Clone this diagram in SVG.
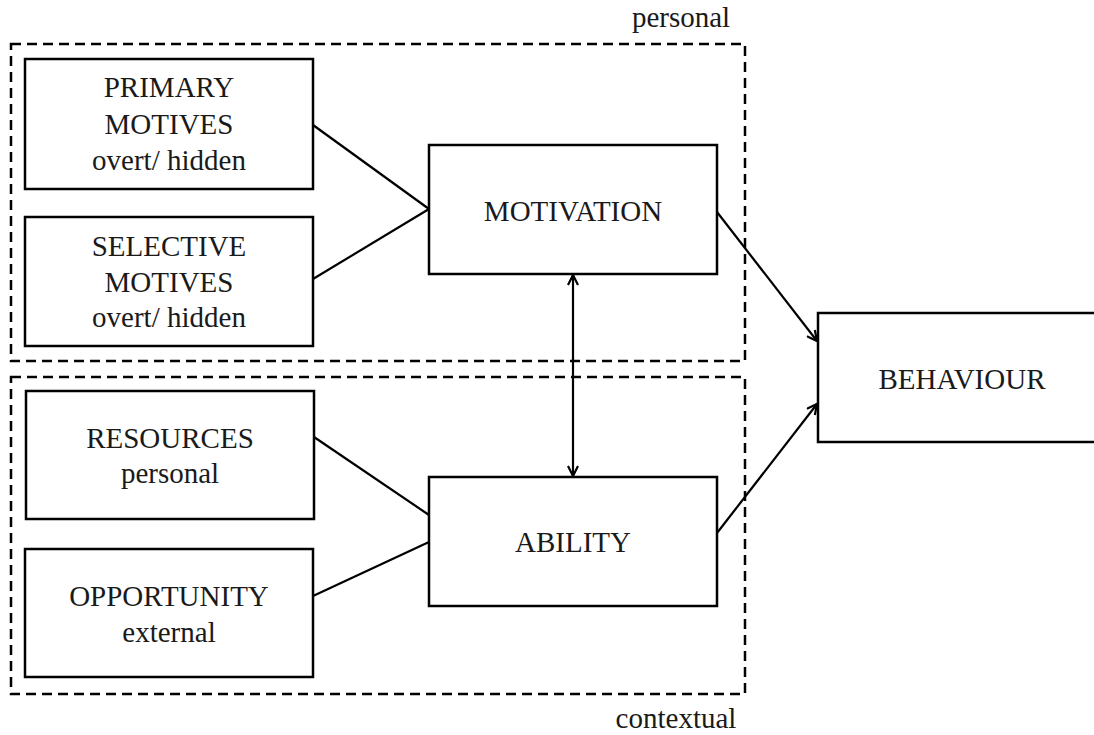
<svg xmlns="http://www.w3.org/2000/svg" width="1094" height="735" viewBox="0 0 1094 735">
<style>
.box{fill:#fff;stroke:#000;stroke-width:2.5}
.grp{fill:none;stroke:#000;stroke-width:2.5;stroke-dasharray:10 6}
.ln{fill:none;stroke:#000;stroke-width:2.2}
text{font-family:'Liberation Serif','Times New Roman','DejaVu Serif',serif;font-size:29px;fill:#1a1a1a;text-anchor:middle}
</style>
<defs>
<marker id="arr" viewBox="0 0 12 12" refX="11" refY="6" markerWidth="12" markerHeight="12" markerUnits="userSpaceOnUse" orient="auto-start-reverse">
<path d="M1,1 L11,6 L1,11" fill="none" stroke="#000" stroke-width="2.2"/>
</marker>
</defs>
<rect width="1094" height="735" fill="#fff"/>
<g id="personal-group">
<rect class="grp" x="11" y="44" width="734" height="317"/>
<text x="681" y="27" font-family="Liberation Serif, serif">personal</text>
</g>
<g id="contextual-group">
<rect class="grp" x="11" y="377" width="734" height="317"/>
<text x="676" y="728" font-family="Liberation Serif, serif">contextual</text>
</g>
<g id="connectors">
<line class="ln" x1="313" y1="125" x2="429" y2="209"/>
<line class="ln" x1="313" y1="279" x2="429" y2="209"/>
<line class="ln" x1="314" y1="437" x2="429" y2="515"/>
<line class="ln" x1="313" y1="596" x2="429" y2="542"/>
<line class="ln" x1="717" y1="212" x2="817" y2="341" marker-end="url(#arr)"/>
<line class="ln" x1="717" y1="533" x2="817" y2="404" marker-end="url(#arr)"/>
<line class="ln" x1="573" y1="275" x2="573" y2="476" marker-start="url(#arr)" marker-end="url(#arr)"/>
</g>
<g id="primary-motives">
<rect class="box" x="25" y="59" width="288" height="130"/>
<text x="169" y="97" font-family="Liberation Serif, serif">PRIMARY</text>
<text x="169" y="134" font-family="Liberation Serif, serif">MOTIVES</text>
<text x="169" y="170" font-family="Liberation Serif, serif">overt/ hidden</text>
</g>
<g id="selective-motives">
<rect class="box" x="25" y="217" width="288" height="129"/>
<text x="169" y="256" font-family="Liberation Serif, serif">SELECTIVE</text>
<text x="169" y="292" font-family="Liberation Serif, serif">MOTIVES</text>
<text x="169" y="327" font-family="Liberation Serif, serif">overt/ hidden</text>
</g>
<g id="resources">
<rect class="box" x="26" y="391" width="288" height="128"/>
<text x="170" y="448" font-family="Liberation Serif, serif">RESOURCES</text>
<text x="170" y="483" font-family="Liberation Serif, serif">personal</text>
</g>
<g id="opportunity">
<rect class="box" x="25" y="549" width="288" height="128"/>
<text x="169" y="606" font-family="Liberation Serif, serif">OPPORTUNITY</text>
<text x="169" y="642" font-family="Liberation Serif, serif">external</text>
</g>
<g id="motivation">
<rect class="box" x="429" y="145" width="288" height="129"/>
<text x="573" y="221" font-family="Liberation Serif, serif">MOTIVATION</text>
</g>
<g id="ability">
<rect class="box" x="429" y="477" width="288" height="129"/>
<text x="573" y="552" font-family="Liberation Serif, serif">ABILITY</text>
</g>
<g id="behaviour">
<rect class="box" x="818" y="313" width="290" height="129"/>
<text x="962" y="389" font-family="Liberation Serif, serif">BEHAVIOUR</text>
</g>
</svg>
